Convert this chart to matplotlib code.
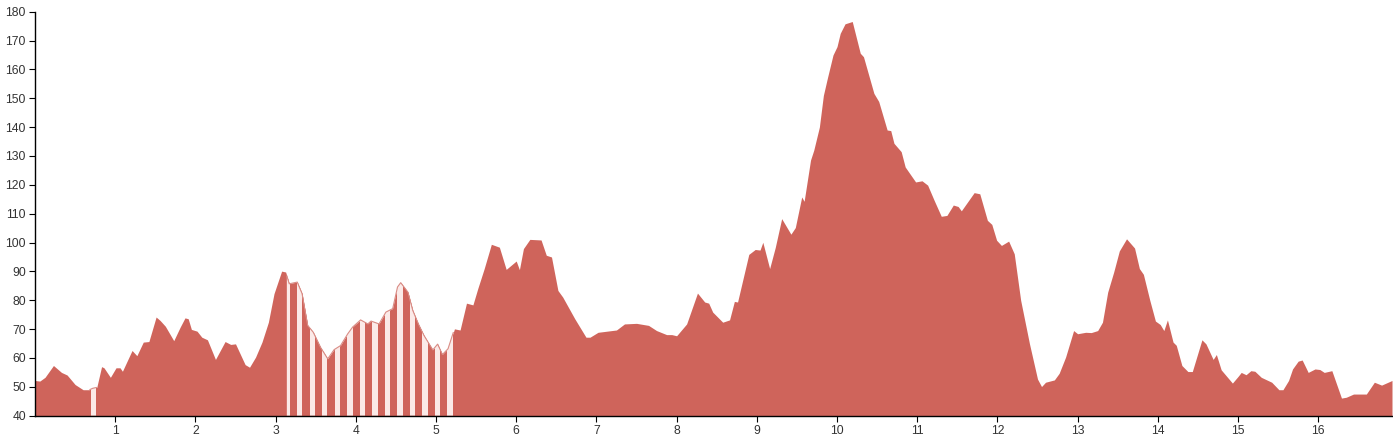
import numpy as np
import matplotlib.pyplot as plt

plt.rcParams['font.family'] = ['Liberation Sans', 'DejaVu Sans']

# distance (km) / elevation (m)
dist = np.array([
    0, 0.06, 0.125, 0.23, 0.33, 0.40, 0.50, 0.60, 0.68, 0.72, 0.77, 0.83, 0.86, 0.94,
    1.01, 1.06, 1.09, 1.21, 1.27, 1.35, 1.42, 1.51, 1.56, 1.625, 1.73, 1.81, 1.87, 1.91, 1.95,
    2.02, 2.08, 2.15, 2.25, 2.37, 2.44, 2.5, 2.62, 2.675, 2.75, 2.83, 2.91, 2.98,
    3.075, 3.125, 3.17, 3.27, 3.33, 3.40, 3.47, 3.56, 3.65, 3.73, 3.81, 3.90, 3.96,
    4.06, 4.15, 4.19, 4.29, 4.375, 4.46, 4.52, 4.56, 4.65, 4.71, 4.78, 4.85, 4.96,
    5.02, 5.08, 5.15, 5.23, 5.30, 5.38, 5.46, 5.52, 5.60, 5.69, 5.79, 5.875,
    6.0, 6.04, 6.09, 6.17, 6.31, 6.375, 6.44, 6.52, 6.58, 6.65, 6.73, 6.87, 6.92,
    7.02, 7.25, 7.35, 7.5, 7.65, 7.75, 7.875, 7.94,
    8.0, 8.125, 8.26, 8.35, 8.40, 8.45, 8.575, 8.66, 8.72, 8.76, 8.90, 8.98,
    9.04, 9.075, 9.16, 9.23, 9.31, 9.425, 9.48, 9.56, 9.59, 9.67, 9.71, 9.78, 9.83, 9.88, 9.95,
    10.0, 10.04, 10.10, 10.19, 10.29, 10.33, 10.46, 10.52, 10.625, 10.67, 10.71, 10.80, 10.85, 10.98,
    11.06, 11.13, 11.21, 11.30, 11.37, 11.45, 11.51, 11.55, 11.71, 11.78, 11.875, 11.93, 11.99,
    12.05, 12.14, 12.21, 12.29, 12.40, 12.5, 12.55, 12.6, 12.71, 12.77, 12.85, 12.95,
    13.0, 13.10, 13.17, 13.25, 13.31, 13.375, 13.45, 13.52, 13.61, 13.71, 13.77, 13.82, 13.90, 13.97,
    14.03, 14.075, 14.12, 14.19, 14.23, 14.30, 14.375, 14.43, 14.55, 14.60, 14.69, 14.73, 14.79, 14.93,
    15.0, 15.04, 15.10, 15.16, 15.21, 15.29, 15.42, 15.51, 15.56, 15.63, 15.68, 15.75, 15.80, 15.875, 15.96,
    16.02, 16.075, 16.17, 16.29, 16.35, 16.44, 16.60, 16.70, 16.79, 16.92,
])
elev = np.array([
    52.2, 52, 53.3, 57.4, 55.0, 54.1, 50.8, 49.0, 49.0, 49.5, 49.8, 57.0, 56.6, 53.3,
    56.6, 56.6, 55.4, 62.6, 60.8, 65.5, 65.7, 74.2, 73, 71.0, 66.0, 70.7, 73.9, 73.6, 69.9,
    69.3, 67.2, 66.3, 59.5, 65.7, 64.7, 64.9, 57.7, 56.8, 60.3, 65.5, 72.4, 82.3,
    90.1, 89.8, 85.7, 86.3, 82.3, 71.3, 68.9, 63.7, 59.7, 62.9, 64.3, 68.4, 70.7,
    73.2, 71.8, 72.8, 71.8, 75.9, 77.1, 84.6, 86.1, 82.8, 76.5, 71.8, 67.8, 62.8,
    64.8, 61.2, 63.2, 70.1, 69.7, 79.0, 78.4, 84.0, 90.9, 99.4, 98.4, 90.7,
    93.6, 90.6, 97.9, 101.1, 100.9, 95.6, 95.0, 83.4, 81.1, 77.6, 73.6, 67.2, 67.2,
    68.9, 69.7, 71.8, 72.0, 71.3, 69.5, 68.1, 68.1,
    67.7, 71.8, 82.5, 79.4, 79.0, 75.9, 72.4, 73.2, 79.6, 79.4, 95.9, 97.6,
    97.4, 100.1, 91.0, 98.3, 108.3, 102.9, 105.2, 115.8, 114.3, 128.6, 132, 140, 151, 157, 165,
    167.9, 172.5, 175.8, 176.6, 165.6, 164.4, 151.7, 148.9, 139.0, 138.8, 134.4, 131.5, 126.2, 121.0,
    121.4, 119.9, 114.7, 109.1, 109.4, 113.0, 112.5, 111.0, 117.3, 116.9, 107.7, 106.3, 100.8,
    99.0, 100.5, 96.1, 80.0, 64.9, 52.7, 50.1, 51.6, 52.4, 54.7, 60.3, 69.5,
    68.4, 68.9, 68.8, 69.5, 72.4, 82.8, 89.8, 97.1, 101.3, 98.1, 91.0, 89.0, 80.0, 72.8,
    71.6, 69.5, 73.2, 65.5, 64.4, 57.4, 55.3, 55.3, 66.3, 64.9, 59.5, 61.2, 55.9, 51.3,
    53.6, 55.0, 54.2, 55.6, 55.4, 53.3, 51.6, 49.0, 49.0, 52.2, 56.2, 58.9, 59.3, 55.0, 56.2,
    56.0, 55.0, 55.6, 46.1, 46.4, 47.5, 47.5, 51.6, 50.6, 52.2,
])

# stretches drawn with the striped fill
striped = [(0.685, 0.765), (3.14, 5.215)]
x_ticks = list(range(1, 17))
y_ticks = list(range(40, 181, 10))

fill = '#cf645b'
light = '#fbeae8'

fig = plt.figure(figsize=(13.93, 4.36), dpi=100)
ax = fig.add_axes([35 / 1393, 1 - 415.7 / 436, 1357 / 1393, 404 / 436])

ax.fill_between(dist, 40, elev, color=fill, lw=0)

for a, b in striped:
    m = (dist > a) & (dist < b)
    xs = np.r_[a, dist[m], b]
    ys = np.interp(xs, dist, elev)
    poly = ax.fill_between(xs, 40, ys, color=fill, lw=0)
    clip = poly.get_paths()[0]
    if b - a < 0.2:
        starts = [a + 0.01]
    else:
        starts = np.arange(3.111, b, 0.156)
    for s in starts:
        sp = ax.axvspan(s, s + 0.068, color=light, lw=0)
        sp.set_clip_path(clip, ax.transData)
    ax.plot(xs, ys, color='#d98d86', lw=0.8)

ax.set_xlim(0, 16.92)
ax.set_ylim(40, 180)
ax.set_xticks(x_ticks)
ax.set_yticks(y_ticks)
ax.tick_params(direction='out', length=4.5, width=0.8, labelsize=8.7,
               labelcolor='#333333', pad=2)
for s in ['top', 'right']:
    ax.spines[s].set_visible(False)
for s in ['left', 'bottom']:
    ax.spines[s].set_color('black')
    ax.spines[s].set_linewidth(1)

fig.savefig('out.png', dpi=100)
